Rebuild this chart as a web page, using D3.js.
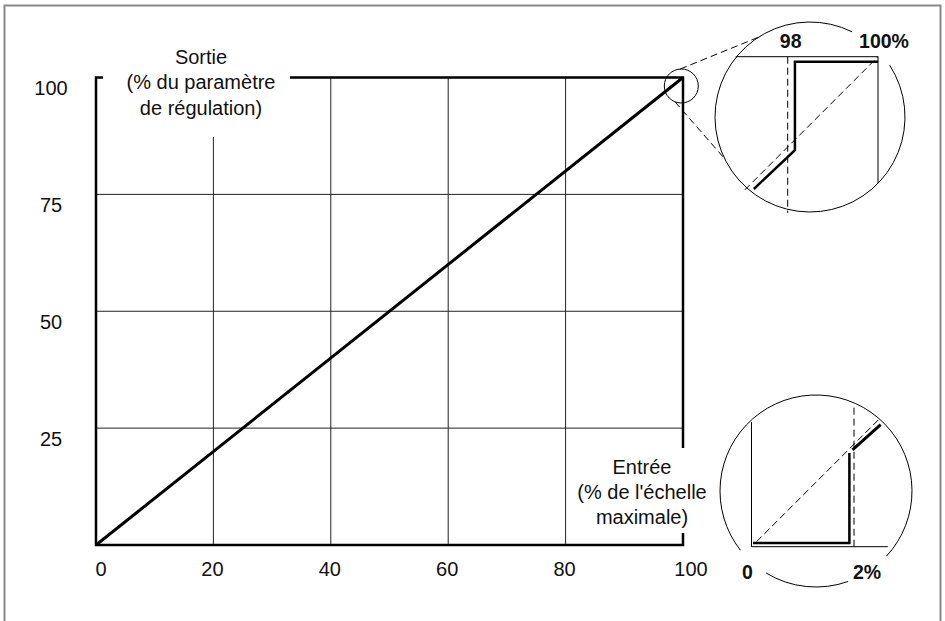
<!DOCTYPE html>
<html>
<head>
<meta charset="utf-8">
<script src="https://cdn.jsdelivr.net/npm/d3@7"></script>
<style>
  body { margin: 0; background: #fff; }
  svg { display: block; font-family: "Liberation Sans", Arial, Helvetica, sans-serif; }
</style>
</head>
<body>
<svg id="chart" width="945" height="621"></svg>
<script>
// main chart values
const xTicks = [0, 20, 40, 60, 80, 100];
const yTicks = [25, 50, 75, 100];
const gridX = [20, 40, 60, 80];
const gridY = [25, 50, 75];
const response = [[0, 0], [100, 100]];
const yTitle = ["Sortie", "(% du paramètre", "de régulation)"];
const xTitle = ["Entrée", "(% de l'échelle", "maximale)"];

// zoom near 100 %
const topIdeal = [[97.05, 97.05], [100, 100]];
const topResponse = [[97.25, 97.07], [98.16, 97.93], [98.16, 99.89], [100, 99.89]];
const topLabels = ["98", "100%"];
const topLabelVals = [98, 100];

// zoom near 0 %
const botIdeal = [[0.1, 0.1], [2.52, 2.52]];
const botResponseA = [[0.03, 0.07], [1.91, 0.07], [1.91, 1.83]];
const botResponseB = [[1.97, 1.89], [2.52, 2.38]];
const botLabels = ["0", "2%"];
const botLabelVals = [0, 2];

const svg = d3.select("#chart");
const x = d3.scaleLinear().domain([0, 100]).range([96, 683]);
const y = d3.scaleLinear().domain([0, 100]).range([545, 77.5]);
const line = d3.line().x(d => x(d[0])).y(d => y(d[1]));
const deg = Math.PI / 180;
const fs = 20;

// outer frame
svg.append("path")
    .attr("d", "M4.5,621V5.5H940.5V621")
    .attr("fill", "none").attr("stroke", "#888").attr("stroke-width", 2);

// grid
svg.selectAll(".gx").data(gridX).enter().append("line")
    .attr("x1", d => x(d)).attr("x2", d => x(d))
    .attr("y1", d => d === 20 ? 137 : y(100)).attr("y2", y(0))
    .attr("stroke", "#222").attr("stroke-width", 1);
svg.selectAll(".gy").data(gridY).enter().append("line")
    .attr("x1", x(0)).attr("x2", x(100))
    .attr("y1", d => y(d)).attr("y2", d => y(d))
    .attr("stroke", "#222").attr("stroke-width", 1);

// thick frame with gaps for the titles
const frame = svg.append("g").attr("fill", "none").attr("stroke", "#000").attr("stroke-width", 2.5);
frame.append("path").attr("d", `M${x(0) + 7},${y(100)}H${x(0)}V${y(0)}H${x(100)}V533`);
frame.append("path").attr("d", `M290,${y(100)}H${x(100)}V448`);

// diagonal response
svg.append("path").datum(response).attr("d", line)
    .attr("fill", "none").attr("stroke", "#000").attr("stroke-width", 3);

// tick labels
svg.selectAll(".xl").data(xTicks).enter().append("text")
    .attr("x", d => x(d) + (d === 0 ? 5 : d === 100 ? 8 : -1))
    .attr("y", 575.5).attr("text-anchor", "middle")
    .attr("font-size", fs).attr("fill", "#111").text(d => d);
svg.selectAll(".yl").data(yTicks).enter().append("text")
    .attr("x", 51).attr("y", d => y(d) + 17.5).attr("text-anchor", "middle")
    .attr("font-size", fs).attr("fill", "#111").text(d => d);

// axis titles
svg.append("text").attr("text-anchor", "middle").attr("font-size", fs).attr("fill", "#111")
    .selectAll("tspan").data(yTitle).enter().append("tspan")
    .attr("x", 201).attr("y", (d, i) => 63.5 + i * 25.5).text(d => d);
svg.append("text").attr("text-anchor", "middle").attr("font-size", fs).attr("fill", "#111")
    .selectAll("tspan").data(xTitle).enter().append("tspan")
    .attr("x", 642).attr("y", (d, i) => 473.5 + i * 25).text(d => d);

// small marker circle at 100/100
const sc = { cx: 681.3, cy: 86, r: 17 };
svg.append("circle").attr("cx", sc.cx).attr("cy", sc.cy).attr("r", sc.r)
    .attr("fill", "none").attr("stroke", "#000").attr("stroke-width", 1);

function arcPath(c, a0, a1) {
    const p = d3.path();
    p.moveTo(c.cx + c.r * Math.cos(a0 * deg), c.cy + c.r * Math.sin(a0 * deg));
    p.arc(c.cx, c.cy, c.r, a0 * deg, a1 * deg);
    return p.toString();
}
function onCircle(c, a) {
    return [c.cx + c.r * Math.cos(a * deg), c.cy + c.r * Math.sin(a * deg)];
}

// top zoom circle
const tc = { cx: 810, cy: 117, r: 95 };
svg.append("path").attr("d", arcPath(tc, -33, 296.3))
    .attr("fill", "none").attr("stroke", "#000").attr("stroke-width", 1);

// connecting dashed lines
const links = [[-94, -123], [112, 154]];
svg.selectAll(".lk").data(links).enter().append("line")
    .each(function(d) {
        const a = onCircle(sc, d[0]), b = onCircle(tc, d[1]);
        d3.select(this).attr("x1", a[0]).attr("y1", a[1]).attr("x2", b[0]).attr("y2", b[1]);
    })
    .attr("stroke", "#000").attr("stroke-width", 1).attr("stroke-dasharray", "7,4");

const tx = d3.scaleLinear().domain([98, 100]).range([787.7, 878]);
const ty = d3.scaleLinear().domain([98, 100]).range([147, 56.7]);
const tline = d3.line().x(d => tx(d[0])).y(d => ty(d[1]));
const tg = svg.append("g").attr("fill", "none").attr("stroke", "#000");
tg.append("path").datum([[96.85, 100], [100, 100], [100, 97.2]]).attr("d", tline).attr("stroke-width", 1);
tg.append("path").datum([[98, 100], [98, 96.54]]).attr("d", tline).attr("stroke-width", 1).attr("stroke-dasharray", "7,4");
tg.append("path").datum(topIdeal).attr("d", tline).attr("stroke-width", 1).attr("stroke-dasharray", "7,4");
tg.append("path").datum(topResponse).attr("d", tline).attr("stroke-width", 2.5);
svg.selectAll(".tl").data(topLabels).enter().append("text")
    .attr("x", (d, i) => tx(topLabelVals[i]) + (i === 0 ? 3 : 6)).attr("y", 48)
    .attr("text-anchor", "middle").attr("font-size", 19.5).attr("font-weight", "bold")
    .attr("fill", "#111").text(d => d);

// bottom zoom circle
const bc = { cx: 816, cy: 491, r: 96 };
svg.append("path").attr("d", arcPath(bc, 141.9, 402.8))
    .attr("fill", "none").attr("stroke", "#000").attr("stroke-width", 1);
svg.append("path").attr("d", arcPath(bc, 70.4, 121.2))
    .attr("fill", "none").attr("stroke", "#000").attr("stroke-width", 1);

const bx = d3.scaleLinear().domain([0, 2]).range([751.5, 854]);
const by = d3.scaleLinear().domain([0, 2]).range([546.7, 444.2]);
const bline = d3.line().x(d => bx(d[0])).y(d => by(d[1]));
const bg = svg.append("g").attr("fill", "none").attr("stroke", "#000");
bg.append("path").datum([[0, 2.43], [0, 0], [2.66, 0]]).attr("d", bline).attr("stroke-width", 1);
bg.append("path").datum([[2, 0], [2, 2.75]]).attr("d", bline).attr("stroke-width", 1).attr("stroke-dasharray", "7,4");
bg.append("path").datum(botIdeal).attr("d", bline).attr("stroke-width", 1).attr("stroke-dasharray", "7,4");
bg.append("path").datum(botResponseA).attr("d", bline).attr("stroke-width", 2.5);
bg.append("path").datum(botResponseB).attr("d", bline).attr("stroke-width", 3);
svg.selectAll(".bl").data(botLabels).enter().append("text")
    .attr("x", (d, i) => bx(botLabelVals[i]) + (i === 0 ? -4 : 13)).attr("y", 579)
    .attr("text-anchor", "middle").attr("font-size", 19.5).attr("font-weight", "bold")
    .attr("fill", "#111").text(d => d);
</script>
</body>
</html>
